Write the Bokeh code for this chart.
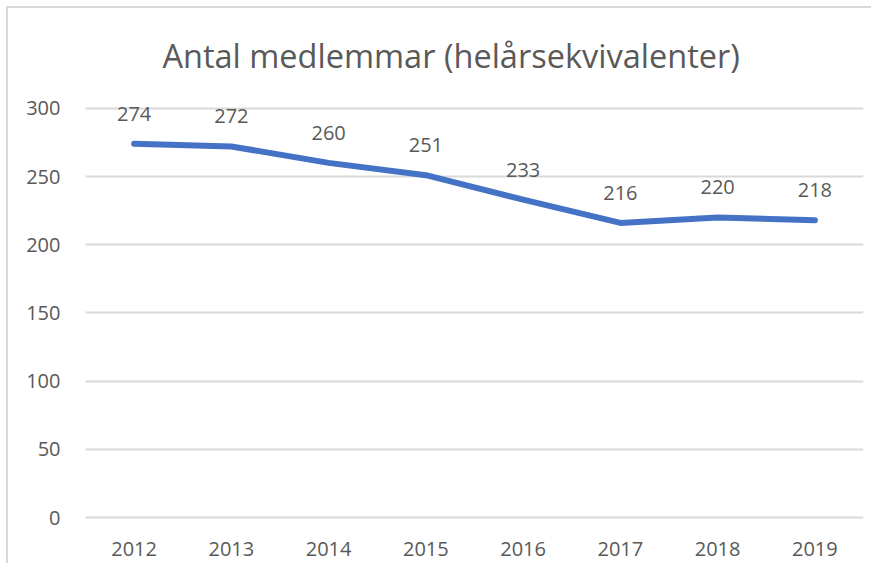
from bokeh.plotting import figure
from bokeh.models import ColumnDataSource, LabelSet, Label, Range1d, FixedTicker
from bokeh.core.properties import value
from bokeh.embed import file_html
from bokeh.resources import INLINE

years = ["2012", "2013", "2014", "2015", "2016", "2017", "2018", "2019"]
members = [274, 272, 260, 251, 233, 216, 220, 218]
y_ticks = [0, 50, 100, 150, 200, 250, 300]
title_text = "Antal medlemmar (helårsekvivalenter)"

FONT = "Open Sans"
TXT = "#595959"

src = ColumnDataSource(dict(year=years, val=members, lab=[str(v) for v in members]))

p = figure(x_range=years, y_range=Range1d(-5, 357),
           frame_width=778, frame_height=494,
           min_border_left=77, min_border_right=8, min_border_top=22, min_border_bottom=39,
           output_backend="svg", toolbar_location=None,
           styles={"border-top": "2px solid #d9d9d9", "border-left": "2px solid #d9d9d9"})
p.margin = (6, 0, 0, 6)

p.outline_line_color = None
p.background_fill_color = "white"
p.border_fill_color = "white"

p.line("year", "val", source=src, line_color="#4472C4", line_width=6,
       line_cap="round", line_join="round")

labels = LabelSet(x="year", y="val", text="lab", source=src, y_offset=30,
                  text_align="center", text_baseline="middle",
                  text_font=value(FONT), text_font_size="20px", text_color=TXT)
p.add_layout(labels)

title = Label(x=3.76, y=339, text=title_text, text_align="center", text_baseline="middle",
              text_font=FONT, text_font_size="32.5px", text_color=TXT)
p.add_layout(title)

p.yaxis.ticker = FixedTicker(ticks=y_ticks)
p.ygrid.ticker = FixedTicker(ticks=y_ticks)
p.ygrid.grid_line_color = "#d9d9d9"
p.ygrid.grid_line_width = 2
p.xgrid.grid_line_color = None

for ax in (p.xaxis, p.yaxis):
    ax.axis_line_color = None
    ax.major_tick_line_color = None
    ax.minor_tick_line_color = None
    ax.major_tick_out = 0
    ax.major_tick_in = 0
    ax.major_label_text_font = FONT
    ax.major_label_text_font_size = "20px"
    ax.major_label_text_color = TXT

p.yaxis.major_label_standoff = 25
p.xaxis.major_label_standoff = 17

open("out.html", "w").write(file_html(p, INLINE))
